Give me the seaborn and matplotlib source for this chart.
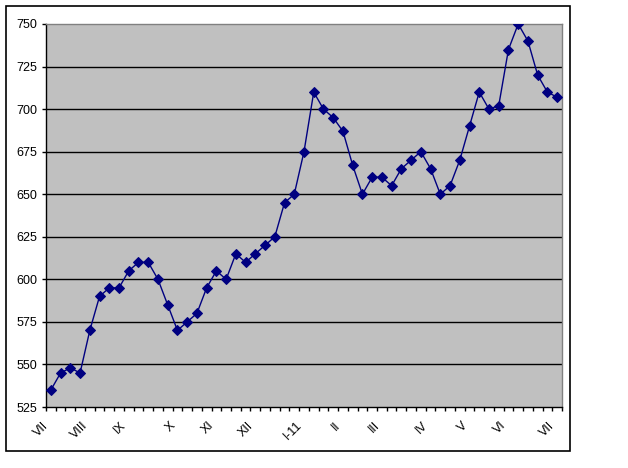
import matplotlib
matplotlib.use("Agg")
import matplotlib.pyplot as plt
from matplotlib.patches import Rectangle
import numpy as np
import pandas as pd
import seaborn as sns

# weekly values, July to July
values = [535, 545, 548, 545, 570, 590, 595, 595, 605, 610,
          610, 600, 585, 570, 575, 580, 595, 605, 600, 615,
          610, 615, 620, 625, 645, 650, 675, 710, 700, 695,
          687, 667, 650, 660, 660, 655, 665, 670, 675, 665,
          650, 655, 670, 690, 710, 700, 702, 735, 750, 740,
          720, 710, 707]
month_pos = [0, 4, 8, 13, 17, 21, 26, 30, 34, 39, 43, 47, 52]
month_labels = ["VII", "VIII", "IX", "X", "XI", "XII", "I-11",
                "II", "III", "IV", "V", "VI", "VII"]
y_ticks = [525, 550, 575, 600, 625, 650, 675, 700, 725, 750]

sns.set_style("white")
plt.rcParams["font.family"] = ["Liberation Sans", "DejaVu Sans"]
plt.rcParams["text.color"] = "black"
plt.rcParams["xtick.color"] = "black"
plt.rcParams["ytick.color"] = "black"

df = pd.DataFrame({"week": np.arange(len(values)), "value": values})

fig = plt.figure(figsize=(6.28, 4.68), dpi=100)
ax = fig.add_axes([46 / 628, 61 / 468, 516 / 628, 383 / 468])
ax.set_facecolor("#C0C0C0")

sns.lineplot(data=df, x="week", y="value", ax=ax, color="#000080",
             linewidth=1, marker="D", markersize=5,
             markeredgecolor="#000080", markerfacecolor="#000080", zorder=3)

ax.set_xlim(-0.5, len(values) - 0.5)
ax.set_ylim(525, 750)
ax.set_yticks(y_ticks)
ax.set_yticklabels([str(v) for v in y_ticks], fontsize=9, color="black")
for v in y_ticks[1:-1]:
    ax.axhline(v, color="black", linewidth=1, zorder=1)

ax.set_xticks(month_pos)
ax.set_xticklabels(month_labels, rotation=45, ha="right", fontsize=9,
                   color="black")
ax.set_xticks(np.arange(-0.5, len(values), 1.0), minor=True)
ax.tick_params(axis="x", which="major", length=0, pad=9)
ax.tick_params(axis="x", which="minor", length=3, width=1, color="black",
               direction="out", bottom=True)
ax.tick_params(axis="y", length=3, width=1, color="black", direction="out",
               pad=3.5, left=True)

ax.set_xlabel("")
ax.set_ylabel("")
for side in ["left", "bottom"]:
    ax.spines[side].set_color("black")
    ax.spines[side].set_linewidth(1)
for side in ["top", "right"]:
    ax.spines[side].set_color("#808080")
    ax.spines[side].set_linewidth(1)

fig.patches.append(Rectangle((6 / 628, 17 / 468), 564 / 628, 445 / 468,
                             transform=fig.transFigure, fill=False,
                             edgecolor="black", linewidth=1.2))

fig.savefig("out.png", dpi=100)
